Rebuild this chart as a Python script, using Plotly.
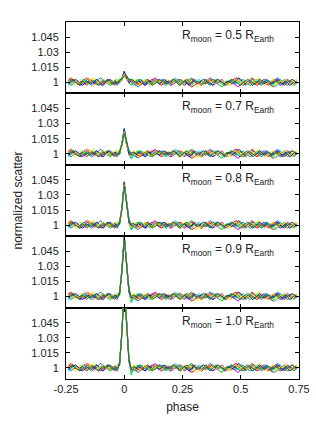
import numpy as np
import plotly.graph_objects as go
from plotly.subplots import make_subplots

# phase grid of the light-curve samples
phase = np.round(np.arange(-0.24, 0.745, 0.01), 2)

# per-sample scatter deviations (units of 1.5e-3), one list per realisation
noise_a = [1,2,1,0,-1,0,1,2,3,2, 1,0,-1,-2,-1,0,1,0,-1,0, 1,0,-1,0,1,2,1,0,-1,-2,
           -1,0,1,0,0,1,2,1,0,-1, -2,-1,0,1,0,-1,0,1,2,1, 0,-1,-2,-3,-2,-1,0,1,0,-1,
           0,1,2,1,0,0,-1,-2,-1,0, 1,2,3,2,1,0,-1,0,1,0, -1,-2,-1,0,1,0,-1,-2,-3,-2,
           -1,0,1,2,1,0,-1,0,1]
noise_b = [-1,0,2,1,-1,-2,0,1,-1,0, 2,1,0,-1,1,2,0,-1,-2,-1, 0,1,-1,0,2,1,-1,-2,0,1,
           2,0,-1,1,0,-2,-1,1,2,1, 0,-1,-2,0,1,-1,0,2,1,0, -1,1,2,3,1,0,-1,-2,-1,1,
           0,-1,0,1,-1,-2,-3,-1,0,1, 2,1,-1,0,1,2,0,-1,-2,-1, 0,2,1,0,-1,1,0,-2,-1,0,
           1,2,0,-1,0,1,-1,-2,0]
noise_c = [0,-2,-1,1,0,-1,1,2,0,-1, -2,-1,0,2,3,1,0,-1,0,1, -1,-2,0,1,0,-1,2,1,0,-2,
           -3,-1,1,0,2,1,-1,0,1,-1, 2,1,0,-1,-2,0,1,2,0,-1, 1,0,-1,0,2,1,-1,-2,-1,0,
           2,3,1,0,-1,1,0,-1,-2,0, 1,-1,0,2,1,0,-2,-1,1,2, 1,0,-1,-2,0,1,0,-1,1,2,
           3,1,-1,0,-2,-1,0,1,-1]
noise_d = [2,1,-1,0,1,-2,-1,0,2,1, 0,-1,1,0,-2,-1,1,2,1,0, -1,0,1,-1,0,1,0,2,1,-1,
           0,1,-1,-2,-1,0,1,3,2,0, -1,0,1,-1,-2,-1,0,1,0,-1, -2,0,1,2,1,-1,0,1,0,2,
           1,0,-2,-1,0,1,2,0,-1,1, 0,-1,-2,-3,-1,0,1,-1,0,2, 1,-1,0,1,2,1,0,-1,0,1,
           -1,-2,-1,0,2,1,0,-1,1]
noise_e = [-2,-1,0,1,-1,0,2,1,0,-1, 0,1,2,0,-1,-2,0,1,-1,0, 1,2,0,1,-1,0,1,-1,-2,0,
           1,2,1,0,-1,1,0,-1,0,2, 1,-1,-2,-1,0,2,3,1,0,-1, 0,1,-1,-2,0,1,2,1,-1,0,
           -1,0,1,2,1,0,-1,-2,-1,1, 2,0,-1,0,1,-1,-2,0,1,0, 2,1,-1,0,1,2,0,-1,-2,-3,
           -1,0,1,2,1,-1,0,1,0]
noise_f = [1,3,2,0,-1,0,1,-1,-2,0, 1,0,2,1,-1,0,1,2,0,-1, -2,0,1,0,1,-1,0,2,1,0,
           -1,-2,0,1,2,0,-1,0,1,2, 0,1,-1,0,1,2,1,-1,-2,-1, 1,0,-1,1,2,0,-1,-2,-1,0,
           1,2,1,-1,0,1,0,-2,-1,0, 1,0,2,1,-1,-2,-1,0,2,3, 1,0,-1,1,0,-1,-2,0,1,2,
           1,0,-1,-2,0,1,2,1,0]
noise_g = [0,1,-1,-2,0,2,1,0,-1,1, 2,3,1,0,-1,-2,-1,0,1,0, 2,1,0,-1,1,0,-1,0,2,1,
           0,-1,1,2,0,-1,-2,0,1,0, -1,1,2,1,0,-1,1,0,-2,-1, 0,2,1,0,-1,-3,-2,0,1,2,
           0,-1,1,0,2,1,-1,0,1,-1, -2,0,1,2,0,-1,1,0,-1,0, 1,2,3,1,-1,0,1,0,-1,-2,
           0,1,0,2,1,-1,-2,0,1]
noise_h = [-1,0,1,2,1,-1,-2,-1,0,1, -1,0,2,1,-1,-2,0,1,2,0, 1,-1,0,1,2,0,-1,1,0,-1,
           1,0,-1,-2,0,1,0,2,1,-1, 0,2,1,0,-1,1,2,0,-1,0, 1,-1,-2,0,1,0,-1,1,2,1,
           0,-1,-2,0,2,1,0,-1,0,1, -1,0,1,3,2,0,-1,1,0,-2, -1,0,2,1,-1,0,1,-1,0,1,
           2,0,-1,1,0,-2,-1,1,0]
noise_i = [2,0,-1,1,0,-1,0,1,3,1, 0,-2,-1,0,1,2,1,-1,0,1, 0,-1,2,1,0,-1,1,2,0,-1,
           -2,-1,1,0,1,-1,0,2,1,0, 1,0,-1,-2,0,1,2,1,-1,0, 2,1,0,-1,0,1,-1,-2,0,1,
           2,0,1,-1,0,2,1,0,-1,-2, 0,1,2,0,-1,1,0,-1,2,1, 0,-1,1,0,-2,-1,0,1,2,0,
           -1,1,0,2,1,-1,0,1,2]
noise_j = [0,1,2,0,-1,-2,1,0,1,-1, 0,1,-1,-2,0,1,0,2,1,-1, 0,-1,1,0,-1,0,1,2,1,0,
           1,2,0,-1,1,0,-2,-1,0,2, 1,0,-1,1,0,2,1,-1,-2,0, 1,2,0,-1,1,0,1,-1,0,2,
           -1,-2,0,1,2,1,0,-1,1,0, 2,1,0,-1,-2,0,1,2,1,0, -1,0,1,-1,0,2,1,0,-1,1,
           0,-1,-2,0,1,0,2,1,0]
noises = [noise_a, noise_b, noise_c, noise_d, noise_e,
          noise_f, noise_g, noise_h, noise_i, noise_j]
NOISE_UNIT = 1.5e-3

# transit signal (units of 1e-3) at phases -0.02 .. 0.03
peak_phase = [-0.02, -0.01, 0.0, 0.01, 0.02, 0.03]
peaks = {
    "0.5": [1, 3, 8, 4, 1, 0],
    "0.7": [1, 9, 22, 10, 1, -2],
    "0.8": [2, 16, 40, 22, 4, -2],
    "0.9": [3, 25, 58, 32, 6, -3],
    "1.0": [4, 35, 80, 45, 8, -4],
}
panel_labels = list(peaks.keys())

colors = ["#ff0000", "#00c000", "#0080ff", "#c000ff", "#00eeee",
          "#c04000", "#eeee00", "#2020c0", "#ffc020", "#008040"]

yticks = [1, 1.015, 1.03, 1.045]
ytick_text = ["1", "1.015", "1.03", "1.045"]
xticks = [-0.25, 0, 0.25, 0.5, 0.75]
xtick_text = ["-0.25", "0", "0.25", "0.5", "0.75"]

fig = make_subplots(rows=5, cols=1, shared_xaxes=True, vertical_spacing=0)

for r, lab in enumerate(panel_labels, start=1):
    sig = dict(zip(peak_phase, peaks[lab]))
    for k, n in enumerate(noises):
        x = phase[:len(n)]
        y = [1 + v * NOISE_UNIT + sig.get(float(p), 0) / 1000.0 for p, v in zip(x, n)]
        fig.add_trace(go.Scatter(x=x, y=y, mode="lines",
                                 line=dict(color=colors[k % len(colors)], width=1),
                                 showlegend=False, hoverinfo="skip"),
                      row=r, col=1)
    fig.add_annotation(x=0.445, y=1.046, xref=f"x{'' if r == 1 else r}",
                       yref=f"y{'' if r == 1 else r}",
                       text=f"R<sub>moon</sub> = {lab} R<sub>Earth</sub>",
                       showarrow=False, xanchor="center", yanchor="middle",
                       font=dict(size=12, color="#222"))

axis_common = dict(showline=True, mirror="allticks", linecolor="black", linewidth=1,
                   ticks="inside", ticklen=4, tickcolor="black", showgrid=False,
                   zeroline=False, automargin=False,
                   tickfont=dict(size=11, color="#222"))
fig.update_xaxes(range=[-0.25, 0.75], tickvals=xticks, ticktext=xtick_text,
                 **axis_common)
fig.update_yaxes(range=[0.989, 1.06], tickvals=yticks, ticktext=ytick_text,
                 ticklabelstandoff=4, **axis_common)
fig.update_xaxes(title=dict(text="phase", font=dict(size=12, color="#222"), standoff=8),
                 row=5, col=1)

fig.add_annotation(x=0, y=0.5, xref="paper", yref="paper", text="normalized scatter",
                   textangle=-90, showarrow=False, xshift=-58,
                   font=dict(size=12, color="#222"))

fig.update_layout(width=316, height=422, margin=dict(l=66, r=17, t=22, b=43),
                  paper_bgcolor="white", plot_bgcolor="white",
                  font=dict(family="Liberation Sans, Arial, sans-serif"))

fig.write_html("out.html", config={"displayModeBar": False},
               post_script="document.body.style.margin='0';")
